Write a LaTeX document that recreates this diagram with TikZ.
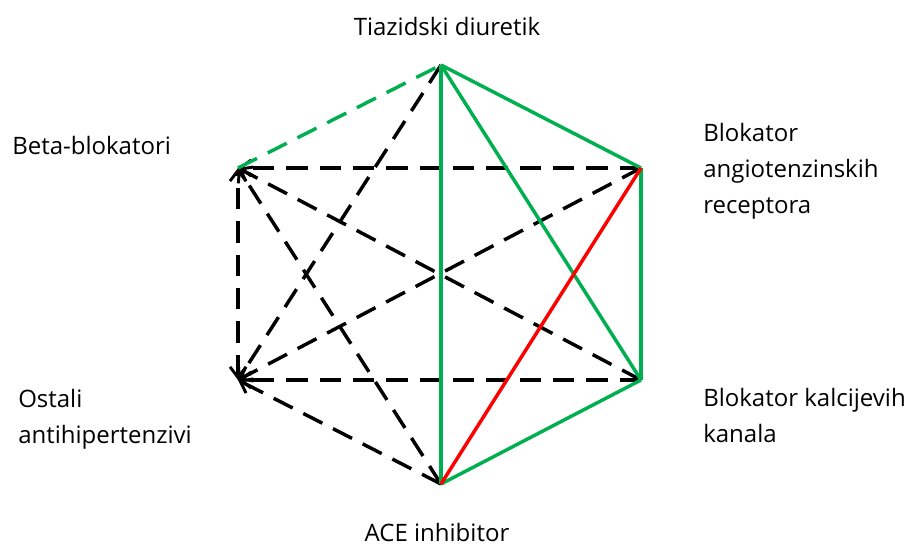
\documentclass[tikz,border=0pt]{standalone}
\usepackage{fontspec}
\setmainfont{Open Sans}
\usetikzlibrary{arrows.meta}
\definecolor{ogreen}{RGB}{0,176,80}
\definecolor{ored}{RGB}{255,0,0}
\begin{document}
\begin{tikzpicture}[x=0.75pt,y=-0.75pt,
  vtx/.style={inner sep=0pt,minimum size=0pt},
  lbl/.style={font=\fontsize{18}{27}\selectfont,inner sep=0pt,align=left},
  blk/.style={line width=2.6pt,black,dash pattern=on 16pt off 9pt,-{Straight Barb[length=8pt,width=12pt,line width=2.2pt]}},
  both/.style={line width=2.6pt,black,dash pattern=on 16pt off 9pt,{Straight Barb[length=8pt,width=12pt,line width=2.2pt]}-{Straight Barb[length=8pt,width=12pt,line width=2.2pt]}},
  grn/.style={line width=2.6pt,ogreen},
  grnd/.style={line width=2.6pt,ogreen,dash pattern=on 16pt off 9pt},
  rd/.style={line width=2.6pt,ored}]
\useasboundingbox (0,0) rectangle (914,545);
\coordinate (T) at (441,65);
\coordinate (BA) at (641,168);
\coordinate (BK) at (641,380);
\coordinate (A) at (441,484);
\coordinate (O) at (238,380);
\coordinate (B) at (238,168);
% black dashed arrows
\draw[blk] (T) -- (O);
\draw[blk] (BA) -- (B);
\draw[blk] (BA) -- (O);
\draw[blk] (BK) -- (B);
\draw[blk] (BK) -- (O);
\draw[blk] (A) -- (B);
\draw[blk] (A) -- (O);
\draw[both] (O) -- (B);
% green
\draw[grnd] (B) -- (T);
\draw[grn] (T) -- (A);
\draw[grn] (T) -- (BA);
\draw[grn] (T) -- (BK);
\draw[grn] (BA) -- (BK);
\draw[grn] (BK) -- (A);
% red
\draw[rd] (A) -- (BA);
% labels
\node[lbl,anchor=center] (lT) at (447,27) {Tiazidski diuretik};
\node[lbl,anchor=west] (lB) at (12,146) {Beta-blokatori};
\node[lbl,anchor=north west] (lBA) at (703,123) {Blokator\\angiotenzinskih\\receptora};
\node[lbl,anchor=north west] (lBK) at (703,388) {Blokator kalcijevih\\kanala};
\node[lbl,anchor=north west] (lO) at (18,389) {Ostali\\antihipertenzivi};
\node[lbl,anchor=center] (lA) at (437,532) {ACE inhibitor};
\end{tikzpicture}
\end{document}
